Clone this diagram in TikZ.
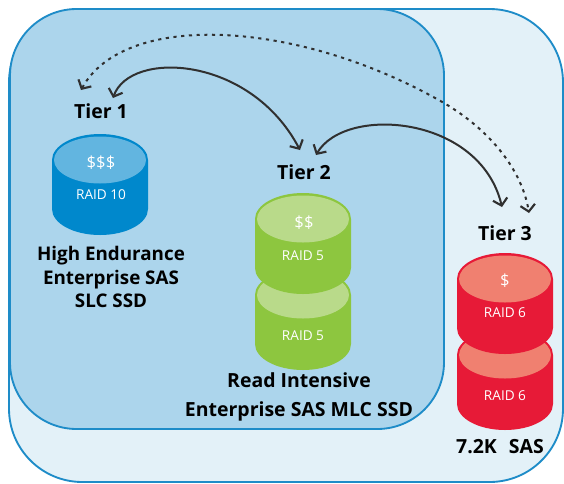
\documentclass[tikz,border=0pt]{standalone}
\usepackage{fontspec}
\setmainfont{Open Sans}
\usetikzlibrary{arrows.meta}
\definecolor{edgeblue}{HTML}{1E8CC8}
\definecolor{outerfill}{HTML}{E3F1F8}
\definecolor{innerfill}{HTML}{ACD5EC}
\definecolor{cylblue}{HTML}{0088CC}
\definecolor{topblue}{HTML}{62B5E0}
\definecolor{cylgreen}{HTML}{8DC63F}
\definecolor{topgreen}{HTML}{B9DA8A}
\definecolor{cylred}{HTML}{E71A37}
\definecolor{topred}{HTML}{F08070}
\definecolor{arrowgrey}{HTML}{303030}
\newcommand{\cylinder}[4]{% x, y of top ellipse centre, side colour, top colour
  \fill[#3] (#1-48,#2) -- (#1-48,#2+49) arc[start angle=180,end angle=0,x radius=48,y radius=26] -- (#1+48,#2) arc[start angle=0,end angle=-180,x radius=48,y radius=26] -- cycle;
  \fill[#4] (#1,#2) ellipse[x radius=46,y radius=23.5];
}
\tikzset{
  tierlabel/.style={font=\fontsize{14.6pt}{16pt}\selectfont\bfseries,text=black,inner sep=0pt,align=center},
  desclabel/.style={font=\fontsize{14.1pt}{17.6pt}\selectfont\bfseries,text=black,inner sep=0pt,align=center},
  desclabelwide/.style={desclabel,font=\fontsize{14.6pt}{21.4pt}\selectfont\bfseries},
  raidlabel/.style={font=\fontsize{10.2pt}{12pt}\selectfont,text=white,inner sep=0pt},
  pricelabel/.style={font=\fontsize{12.5pt}{14pt}\selectfont,text=white,inner sep=0pt},
  link/.style={draw=arrowgrey,line width=1.5pt,{Straight Barb[length=5pt,width=11pt,line width=1.6pt]}-{Straight Barb[length=5pt,width=11pt,line width=1.6pt]}},
  dotlink/.style={link,dash pattern=on 2.4pt off 3.4pt},
  panel/.style={draw=edgeblue,line width=1.4pt}
}
\begin{document}
\begin{tikzpicture}[x=0.75pt,y=-0.75pt]
\useasboundingbox (0,0) rectangle (564,483);
\draw[panel,fill=outerfill,rounded corners=55pt] (9,9) rectangle (563,482);
\draw[panel,fill=innerfill,rounded corners=50pt] (10,9) rectangle (444,429);
\cylinder{100}{160}{cylblue}{topblue}
\cylinder{303}{295}{cylgreen}{topgreen}
\cylinder{303}{219}{cylgreen}{topgreen}
\cylinder{505}{355}{cylred}{topred}
\cylinder{505}{279}{cylred}{topred}
\node[tierlabel] (tier1) at (101,111) {Tier 1};
\node[tierlabel] (tier2) at (304,172) {Tier 2};
\node[tierlabel] (tier3) at (505,233) {Tier 3};
\node[desclabel] (desc1) at (111,277) {High Endurance\\Enterprise SAS\\SLC SSD};
\node[desclabelwide] (desc2) at (299,397) {Read Intensive\\Enterprise SAS MLC SSD};
\node[tierlabel] (desc3) at (500,447) {7.2K\hspace{9pt}SAS};
\node[pricelabel] (p1) at (101,163) {\$\$\$};
\node[pricelabel] (p2) at (304,223) {\$\$};
\node[pricelabel] (p3) at (505,281) {\$};
\node[raidlabel] (r1) at (101,195) {RAID 10};
\node[raidlabel] (r2) at (303,256) {RAID 5};
\node[raidlabel] (r3) at (303,336) {RAID 5};
\node[raidlabel] (r4) at (505,313) {RAID 6};
\node[raidlabel] (r5) at (505,396) {RAID 6};
\coordinate (a1) at (113,98);
\coordinate (a2) at (300,150);
\coordinate (b2) at (316,155);
\coordinate (b3) at (502,207);
\coordinate (c1) at (81,90);
\coordinate (c2) at (444,103);
\coordinate (c3) at (529,213);
\draw[link] (a1) .. controls (130,50) and (250,55) .. (a2);
\draw[link] (b2) .. controls (345,105) and (480,115) .. (b3);
\draw[dotlink] (c1) .. controls (125,10) and (300,20) .. (c2) .. controls (490,130) and (522,170) .. (c3);
\end{tikzpicture}
\end{document}
